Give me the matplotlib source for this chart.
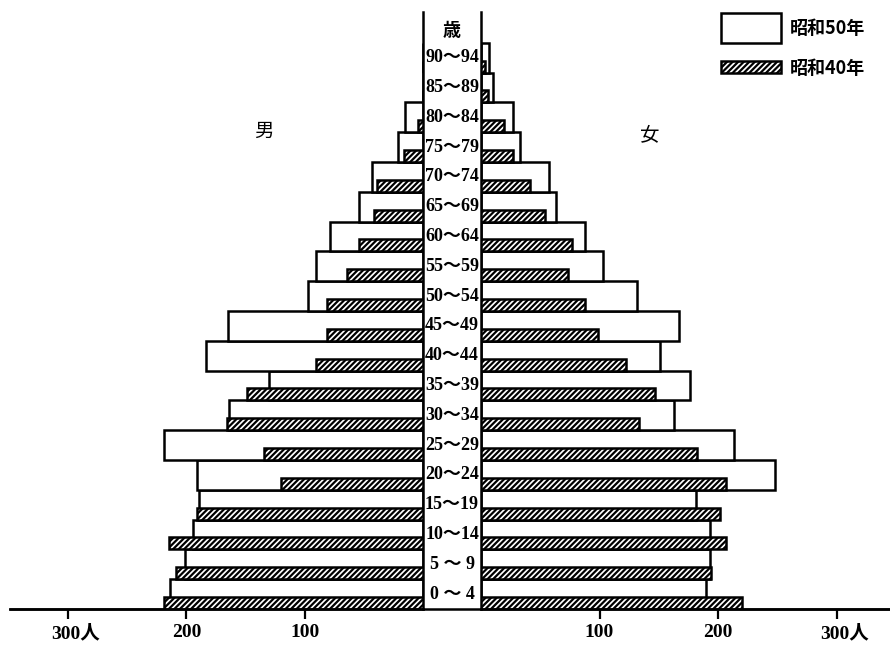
import matplotlib
matplotlib.use("Agg")
import matplotlib.pyplot as plt
from matplotlib.lines import Line2D
from matplotlib.patches import Rectangle
from matplotlib.transforms import ScaledTranslation, blended_transform_factory

plt.rcParams['font.family'] = ['Liberation Serif', 'Noto Sans CJK JP']
plt.rcParams['hatch.linewidth'] = 1.6

# age groups, bottom to top
ages = ["0 ～ 4", "5 ～ 9", "10～14", "15～19", "20～24", "25～29", "30～34",
        "35～39", "40～44", "45～49", "50～54", "55～59", "60～64", "65～69",
        "70～74", "75～79", "80～84", "85～89", "90～94"]

# 男 (persons)
male_s50 = [214, 201, 194, 189, 191, 219, 164, 130, 183, 165, 97, 90, 79, 54, 43, 21, 15, 0, 0]
male_s40 = [219, 209, 215, 191, 120, 134, 166, 149, 90, 81, 81, 64, 54, 41, 39, 16, 4, 0, 0]
# 女 (persons)
female_s50 = [190, 193, 193, 181, 248, 213, 163, 176, 151, 167, 132, 103, 88, 63, 57, 33, 27, 10, 7]
female_s40 = [220, 194, 207, 202, 207, 182, 133, 147, 122, 99, 88, 73, 77, 54, 41, 27, 19, 6, 3]

ticks = [100, 200, 300]
tick_labels = ["100", "200", "300人"]

W, H = 890, 648
fig = plt.figure(figsize=(W / 100, H / 100), dpi=100)

base_y = 609
top_y = 12
bottom = (H - base_y) / H
height = (base_y - top_y) / H
ax_l = fig.add_axes([10 / W, bottom, 413 / W, height])
ax_r = fig.add_axes([481 / W, bottom, 409 / W, height])

rows = list(range(len(ages)))
for ax, s50, s40, xmax in [(ax_l, male_s50, male_s40, 349), (ax_r, female_s50, female_s40, 345)]:
    ax.barh(rows, s50, height=1.0, align='edge', color='white',
            edgecolor='black', linewidth=1.8, zorder=2)
    ax.barh(rows, s40, height=0.4, align='edge', color='white',
            edgecolor='black', hatch='//////', linewidth=1.8, zorder=3)
    ax.set_ylim(0, 20.03)
    ax.set_yticks([])
    ax.set_xticks(ticks)
    ax.set_xticklabels(tick_labels, fontsize=14, fontweight='bold')
    ax.tick_params(axis='x', direction='out', length=7, width=1.6, pad=4)
    ax.spines['top'].set_visible(False)
    ax.spines['bottom'].set_linewidth(1.8)
    if ax is ax_l:
        ax.set_xlim(xmax, 0)
        ax.spines['left'].set_visible(False)
        ax.spines['right'].set_linewidth(1.8)
    else:
        ax.set_xlim(0, xmax)
        ax.spines['right'].set_visible(False)
        ax.spines['left'].set_linewidth(1.8)
    # keep the numbers centred on the tick, 人 hanging to the right
    lab = ax.get_xticklabels()[-1]
    lab.set_transform(lab.get_transform() + ScaledTranslation(8 / 100, 0, fig.dpi_scale_trans))

# baseline running through the centre column
fig.add_artist(Line2D([10 / W, 1.0], [bottom, bottom], color='black', linewidth=1.8,
                      transform=fig.transFigure))

# age labels in the centre column
tr = blended_transform_factory(fig.transFigure, ax_r.transData)
for i, a in enumerate(ages):
    fig.text(452 / W, i + 0.5, a, transform=tr, ha='center', va='center',
             fontsize=13, fontweight='bold')
fig.text(452 / W, 19.4, "歳", transform=tr, ha='center', va='center',
         fontsize=13, fontweight='bold', family='Noto Sans CJK JP')

fig.text(264 / W, 1 - 131 / H, "男", ha='center', va='center', fontsize=14,
         family='Noto Sans CJK JP')
fig.text(650 / W, 1 - 135 / H, "女", ha='center', va='center', fontsize=14,
         family='Noto Sans CJK JP')

# legend
fig.add_artist(Rectangle((721 / W, 1 - 43 / H), 60 / W, 30 / H, facecolor='white',
                         edgecolor='black', linewidth=1.8, transform=fig.transFigure))
fig.add_artist(Rectangle((721 / W, 1 - 73 / H), 60 / W, 12 / H, facecolor='white',
                         edgecolor='black', hatch='//////', linewidth=1.8,
                         transform=fig.transFigure))
fig.text(790 / W, 1 - 29 / H, "昭和50年", ha='left', va='center', fontsize=13,
         fontweight='bold', family='Noto Sans CJK JP')
fig.text(790 / W, 1 - 68 / H, "昭和40年", ha='left', va='center', fontsize=13,
         fontweight='bold', family='Noto Sans CJK JP')

fig.savefig("out.png", dpi=100)
